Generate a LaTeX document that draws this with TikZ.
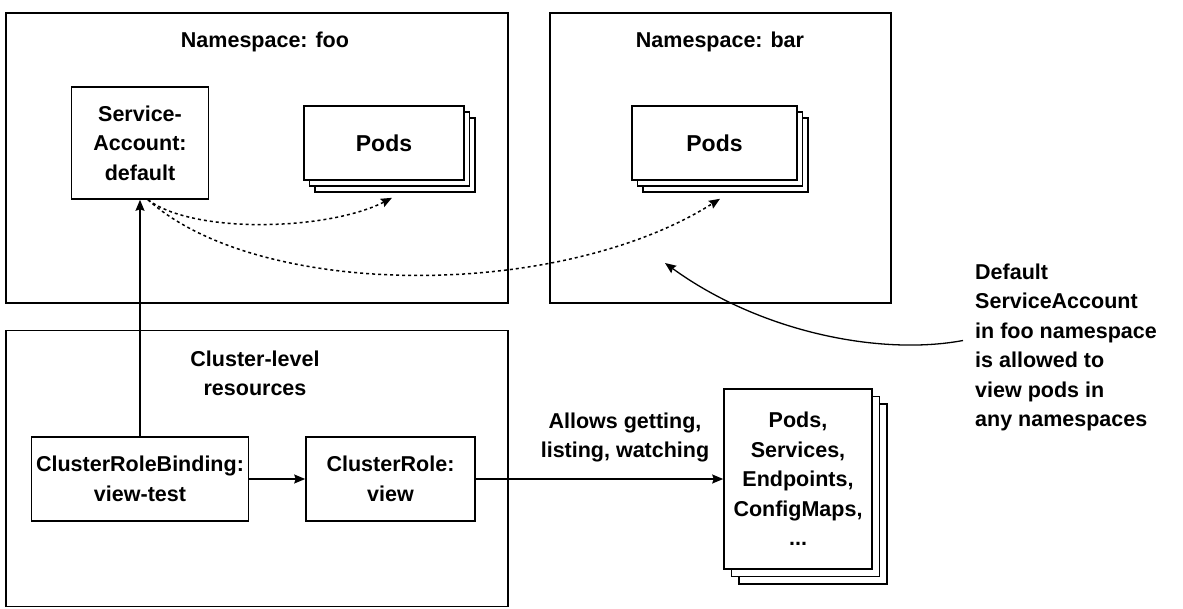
\documentclass[tikz,border=0pt]{standalone}
\usepackage{fontspec}
\setmainfont{Liberation Sans}
\usetikzlibrary{arrows.meta}

\tikzset{
  box/.style={draw, line width=1.6pt, fill=white, inner sep=0pt, align=center},
  frame/.style={draw, line width=1.6pt, inner sep=0pt},
  title/.style={inner sep=0pt, align=center},
  arrow/.style={line width=1.3pt, -{Stealth[length=11pt,width=9pt,inset=1.5pt]}},
  dotarrow/.style={line width=1.5pt, dash pattern=on 3pt off 3pt,
                   -{Stealth[length=11pt,width=9pt,inset=1.5pt]}},
}

\begin{document}
\begin{tikzpicture}[x=1pt,y=-1pt,font=\fontsize{21.5}{29.5}\selectfont\bfseries]
\useasboundingbox (0,0) rectangle (1183,608);

% namespace and cluster frames
\node[frame, minimum width=502pt, minimum height=290pt] (foo) at (257,158) {};
\node[frame, minimum width=341pt, minimum height=290pt] (bar) at (720.5,158) {};
\node[frame, minimum width=502pt, minimum height=276pt] (cluster) at (257,468.5) {};

\node[title] (footitle) at (265,42) {Namespace: foo};
\node[title] (bartitle) at (720,42) {Namespace: bar};
\node[title] (clustertitle) at (255,373.5) {Cluster-level\\resources};

% service account
\node[box, minimum width=137pt, minimum height=112pt] (sa) at (140,143)
  {Service-\\Account:\\default};

% pods in foo (stacked)
\node[box, minimum width=160pt, minimum height=74pt] (podsA3) at (395,155) {};
\node[box, minimum width=160pt, minimum height=74pt] (podsA2) at (389.5,149) {};
\node[box, minimum width=160pt, minimum height=74pt, font=\fontsize{23}{29.5}\selectfont\bfseries] (podsA) at (384,143) {Pods};

% pods in bar (stacked)
\node[box, minimum width=165pt, minimum height=74pt] (podsB3) at (725.5,155) {};
\node[box, minimum width=165pt, minimum height=74pt] (podsB2) at (720,149) {};
\node[box, minimum width=165pt, minimum height=74pt, font=\fontsize{23}{29.5}\selectfont\bfseries] (podsB) at (714.5,143) {Pods};

% cluster-level objects
\node[box, minimum width=217pt, minimum height=84pt] (crb) at (140,479)
  {ClusterRoleBinding:\\view-test};
\node[box, minimum width=169pt, minimum height=84pt] (cr) at (390.5,479)
  {ClusterRole:\\view};

% resource stack
\node[box, minimum width=148pt, minimum height=180pt] (res3) at (813,494) {};
\node[box, minimum width=148pt, minimum height=180pt] (res2) at (805.5,486.5) {};
\node[box, minimum width=148pt, minimum height=180pt] (res) at (798,479)
  {Pods,\\Services,\\Endpoints,\\ConfigMaps,\\...};

\node[title] (allows) at (625,437.5) {Allows getting,\\listing, watching};

% note on the right
\node[inner sep=0pt, align=left, anchor=west] (note) at (975,347.5)
  {Default\\ServiceAccount\\in foo namespace\\is allowed to\\view pods in\\any namespaces};
\coordinate (barhit) at (665,263);

% connectors
\draw[arrow] (crb.north) -- (crb.north |- sa.south);
\draw[arrow] (crb) -- (cr);
\draw[arrow] (cr) -- (res);

\draw[dotarrow] ([xshift=8pt]sa.south)
  .. controls (195,235) and (330,230) .. ([shift={(-3,5)}]podsA3.south);
\draw[dotarrow] ([xshift=8pt]sa.south)
  .. controls (260,300) and (560,300) .. ([shift={(-5.5,6)}]podsB3.south);

\draw[arrow] ([shift={(-12,-7)}]note.west)
  .. controls (880,356) and (760,332) .. (barhit);
\end{tikzpicture}
\end{document}
